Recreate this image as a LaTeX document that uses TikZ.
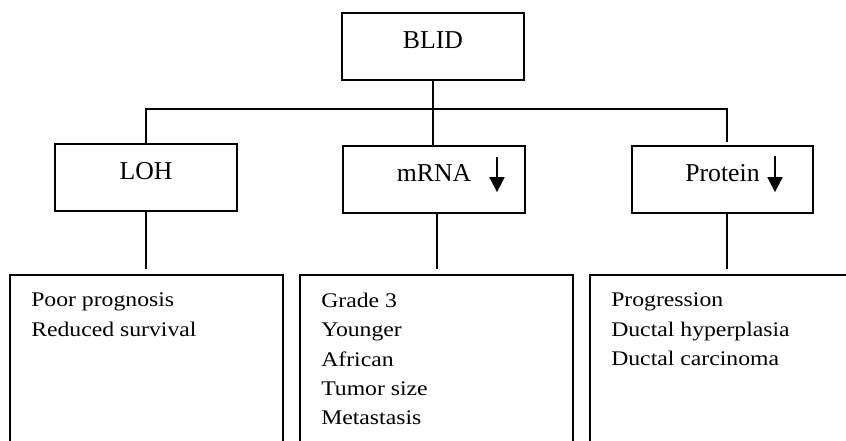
\documentclass[tikz,border=0pt]{standalone}
\usepackage{fontspec}
\setmainfont{Liberation Serif}
\newfontfamily\listfont{Liberation Serif}[FakeStretch=1.14]
\usetikzlibrary{arrows.meta}
\begin{document}
\begin{tikzpicture}[x=0.75pt,y=-0.75pt,
  topbox/.style={draw, line width=1.3pt, minimum width=136.5pt, minimum height=50.25pt, inner sep=0pt,
    font=\fontsize{19.3}{23}\selectfont, text height=13pt, text depth=9.25pt},
  listbox/.style={draw, line width=1.3pt, minimum width=204.75pt, minimum height=183.75pt, inner sep=0pt},
  listtext/.style={anchor=base west, inner sep=0pt, font=\listfont\fontsize{15.6}{22}\selectfont},
  conn/.style={line width=1.3pt},
  downarrow/.style={line width=1.3pt, -{Triangle[width=11.25pt,length=11.25pt]}}]
\clip (0,0) rectangle (846,441);
% top boxes
\node[topbox] (blid) at (433,46.5) {BLID};
\node[topbox] (loh) at (146,177.5) {LOH};
\node[topbox] (mrna) at (434,179.5) {mRNA};
\node[topbox, minimum width=135.75pt] (prot) at (722.5,179.5) {Protein};
% bottom boxes
\node[listbox] (lohd) at (146.5,397.5) {};
\node[listbox] (mrnad) at (436.5,397.5) {};
\node[listbox, minimum width=217.5pt] (protd) at (735,397.5) {};
% list texts
\node[listtext] (lohl) at (31,307) {\parbox[t]{200pt}{Poor prognosis\\Reduced survival}};
\node[listtext] (mrnal) at (321,307.5) {\parbox[t]{200pt}{Grade 3\\Younger\\African\\Tumor size\\Metastasis}};
\node[listtext] (protl) at (611,307) {\parbox[t]{200pt}{Progression\\Ductal hyperplasia\\Ductal carcinoma}};
% connectors
\coordinate (bar) at (433,109);
\draw[conn] (blid.south) -- (blid.south |- mrna.north);
\draw[conn] (loh.north) |- (bar) -| ([xshift=3.375pt,yshift=2.25pt]prot.north);
\draw[conn, shorten >=3.75pt] (loh.south) -- (loh.south |- lohd.north);
\draw[conn, shorten >=3.75pt] ([xshift=2.25pt]mrna.south) -- ([xshift=2.25pt]mrna.south |- mrnad.north);
\draw[conn, shorten >=3.75pt] ([xshift=3.375pt]prot.south) -- ([xshift=3.375pt]prot.south |- protd.north);
% down arrows
\draw[downarrow] ([xshift=47.25pt,yshift=-9pt]mrna.north) -- ++(0,35);
\draw[downarrow] ([xshift=39.375pt,yshift=-8.25pt]prot.north) -- ++(0,36);
\end{tikzpicture}
\end{document}
